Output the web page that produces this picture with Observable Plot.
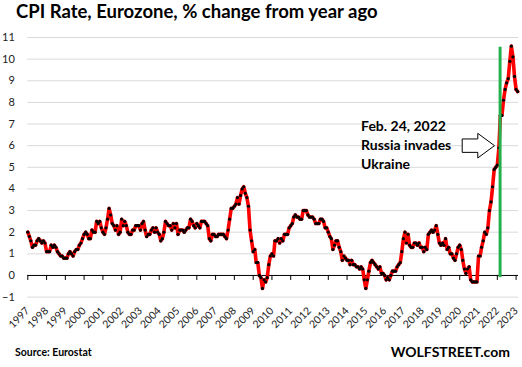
<!DOCTYPE html>
<html><head><meta charset="utf-8">
<script src="https://cdn.jsdelivr.net/npm/d3@7"></script>
<script src="https://cdn.jsdelivr.net/npm/@observablehq/plot@0.6"></script>
<style>
body{margin:0;background:#fff;}
#wrap{position:relative;width:522px;height:367px;overflow:hidden;font-family:Lato,sans-serif;color:#000;}
#chart{position:absolute;left:0;top:0;}
.lbl{position:absolute;white-space:nowrap;font-weight:700;line-height:normal;}
#title{left:16px;top:0px;font-size:18.5px;}
#src{left:15px;top:346px;font-size:10.5px;}
#brand{right:12px;top:342.5px;font-size:14px;}
</style></head><body>
<div id="wrap">
<div id="chart"></div>
<div class="lbl" id="title">CPI Rate, Eurozone, % change from year ago</div>
<div class="lbl" id="src">Source: Eurostat</div>
<div class="lbl" id="brand">WOLFSTREET.com</div>
</div>
<script>
const years = [1997,1998,1999,2000,2001,2002,2003,2004,2005,2006,2007,2008,2009,2010,2011,2012,2013,2014,2015,2016,2017,2018,2019,2020,2021,2022,2023];
const y1997 = [2.0,1.8,1.6,1.3,1.4,1.4,1.6,1.7,1.6,1.5,1.6,1.5];
const y1998 = [1.1,1.1,1.1,1.4,1.3,1.4,1.3,1.1,1.0,0.9,0.9,0.8];
const y1999 = [0.8,0.8,1.0,1.1,1.0,0.9,1.1,1.2,1.2,1.4,1.5,1.7];
const y2000 = [1.9,2.0,1.9,1.7,1.7,2.1,2.0,2.0,2.5,2.4,2.5,2.2];
const y2001 = [2.0,1.9,2.2,2.6,3.1,2.8,2.4,2.3,2.1,2.3,1.9,2.0];
const y2002 = [2.6,2.3,2.5,2.3,2.0,1.9,1.9,2.1,2.1,2.3,2.3,2.3];
const y2003 = [2.1,2.4,2.5,2.1,1.8,1.9,1.9,2.1,2.2,2.0,2.2,2.0];
const y2004 = [1.9,1.6,1.7,2.0,2.5,2.4,2.3,2.3,2.1,2.4,2.2,2.4];
const y2005 = [1.9,2.1,2.1,2.1,2.0,2.1,2.2,2.2,2.6,2.5,2.3,2.2];
const y2006 = [2.4,2.3,2.2,2.5,2.5,2.5,2.4,2.3,1.7,1.6,1.9,1.9];
const y2007 = [1.8,1.8,1.9,1.9,1.9,1.9,1.8,1.7,2.1,2.6,3.1,3.1];
const y2008 = [3.2,3.3,3.6,3.3,3.7,4.0,4.1,3.8,3.6,3.2,2.1,1.6];
const y2009 = [1.1,1.2,0.6,0.6,0.0,-0.1,-0.6,-0.2,-0.3,-0.1,0.5,0.9];
const y2010 = [1.0,0.9,1.6,1.6,1.7,1.5,1.7,1.6,1.9,1.9,1.9,2.2];
const y2011 = [2.3,2.4,2.7,2.8,2.7,2.7,2.6,2.6,3.0,3.0,3.0,2.8];
const y2012 = [2.7,2.7,2.7,2.6,2.4,2.4,2.4,2.6,2.6,2.5,2.2,2.2];
const y2013 = [2.0,1.8,1.7,1.2,1.4,1.6,1.6,1.3,1.1,0.7,0.9,0.8];
const y2014 = [0.7,0.7,0.5,0.7,0.5,0.5,0.4,0.4,0.3,0.4,0.3,-0.2];
const y2015 = [-0.6,-0.2,0.2,0.6,0.7,0.6,0.5,0.4,0.3,0.4,0.1,0.1];
const y2016 = [0.0,-0.2,-0.1,-0.2,0.0,0.2,0.2,0.2,0.4,0.5,0.6,1.1];
const y2017 = [1.7,2.0,1.5,1.9,1.4,1.3,1.3,1.5,1.5,1.4,1.5,1.3];
const y2018 = [1.3,1.1,1.3,1.2,1.9,2.0,2.1,2.0,2.1,2.3,1.9,1.5];
const y2019 = [1.4,1.5,1.4,1.7,1.2,1.3,1.0,1.0,0.8,0.7,1.0,1.3];
const y2020 = [1.4,1.2,0.7,0.3,0.1,0.3,0.4,-0.2,-0.3,-0.3,-0.3,-0.3];
const y2021 = [0.9,0.9,1.3,1.6,2.0,1.9,2.2,3.0,3.4,4.1,4.9,5.0];
const y2022 = [5.1,5.9,7.4,7.4,8.1,8.6,8.9,9.1,9.9,10.6,10.1,9.2];
const y2023 = [8.6,8.5];
const yearSeries = [y1997,y1998,y1999,y2000,y2001,y2002,y2003,y2004,y2005,y2006,y2007,y2008,y2009,y2010,y2011,y2012,y2013,y2014,y2015,y2016,y2017,y2018,y2019,y2020,y2021,y2022,y2023];
const yTicks = [-1,0,1,2,3,4,5,6,7,8,9,10,11];
const eventDate = [2022, 1, 24];
const eventLabel = "Feb. 24, 2022\nRussia invades\nUkraine";
const eventSpan = [-0.1, 10.55];
const arrowLevel = 6;

const data = [];
yearSeries.forEach((vals, i) => vals.forEach((v, m) => data.push({date: new Date(Date.UTC(years[i], m, 1)), value: v})));
const tickDates = years.map(y => new Date(Date.UTC(y, 0, 1)));
const events = [{date: new Date(Date.UTC(eventDate[0], eventDate[1], eventDate[2])), y1: eventSpan[0], y2: eventSpan[1], label: eventLabel, level: arrowLevel}];

const arrowSymbol = {
  draw(ctx) {
    ctx.moveTo(-16.3, -6.7);
    ctx.lineTo(-0.7, -6.7);
    ctx.lineTo(-0.7, -12.3);
    ctx.lineTo(16, 0);
    ctx.lineTo(-0.7, 12.3);
    ctx.lineTo(-0.7, 6.7);
    ctx.lineTo(-16.3, 6.7);
    ctx.closePath();
  }
};

const chart = Plot.plot({
  width: 522, height: 367,
  marginLeft: 27.3, marginRight: 4, marginTop: 37, marginBottom: 70.4,
  style: {fontFamily: "Lato, sans-serif", background: "transparent", overflow: "visible"},
  x: {type: "utc", domain: [new Date(Date.UTC(1997,0,1)), new Date(Date.UTC(2023,1,17))]},
  y: {domain: [-1, 11]},
  marks: [
    Plot.gridY(yTicks.filter(d => d !== 0), {stroke: "#d9d9d9", strokeOpacity: 1, strokeWidth: 1}),
    Plot.axisY(yTicks, {tickSize: 0, tickPadding: 13, fontSize: 11, fill: "#222", label: null}),
    Plot.axisX(tickDates, {tickSize: 0, tickRotate: -45, tickPadding: 12, fontSize: 10.5, fill: "#222", label: null, tickFormat: d => String(d.getUTCFullYear())}),
    Plot.ruleY([0], {stroke: "#000", strokeWidth: 1}),
    Plot.ruleX(tickDates, {y1: 0, y2: 0, insetBottom: -5, stroke: "#000", strokeWidth: 1}),
    Plot.line(data, {x: "date", y: "value", stroke: "#ff0000", strokeWidth: 3.6, strokeLinejoin: "round"}),
    Plot.dot(data, {x: "date", y: "value", r: 1.6, fill: "#000"}),
    Plot.ruleX(events, {x: "date", y1: "y1", y2: "y2", stroke: "#22b14c", strokeWidth: 3}),
    Plot.dot(events, {x: "date", y: "level", symbol: arrowSymbol, r: 5, fill: "#fff", stroke: "#000", strokeWidth: 1, dx: -21.6}),
    Plot.text(events, {x: "date", y: "level", text: "label", dx: -139, dy: -1.5, textAnchor: "start", lineAnchor: "middle", lineHeight: 1.36, fontSize: 14, fontWeight: 700, fill: "#000"})
  ]
});
document.getElementById("chart").appendChild(chart);
</script>
</body></html>
